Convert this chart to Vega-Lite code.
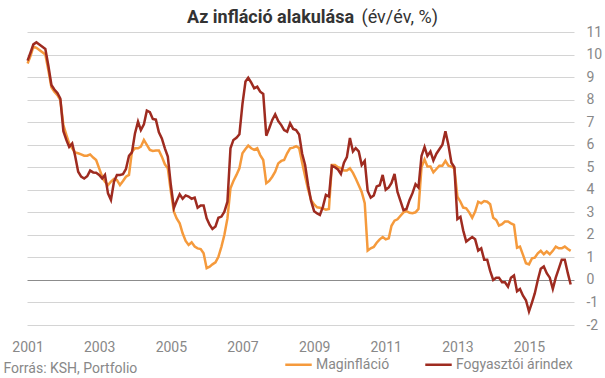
{
"$schema": "https://vega.github.io/schema/vega-lite/v6.json",
"width": 547, "height": 293,
"autosize": {"type": "none"},
"padding": {"left": 27, "top": 32, "right": 31, "bottom": 53},
"background": "white",
"config": {"view": {"stroke": null}, "font": "Roboto"},
"title": {"text": "Az infláció alakulása", "anchor": "start", "frame": "group", "dx": 160, "dy": 19, "offset": 0, "fontSize": 18, "fontWeight": "bold", "font": "Roboto", "color": "#333333"},
"data": {"values": [
{"d":"2001-01","f":9.73,"m":9.6},{"d":"2001-02","f":10.1,"m":9.95},{"d":"2001-03","f":10.45,"m":10.35},{"d":"2001-04","f":10.54,"m":10.3},{"d":"2001-05","f":10.45,"m":10.2},{"d":"2001-06","f":10.35,"m":10.1},{"d":"2001-07","f":10.25,"m":10.0},{"d":"2001-08","f":9.5,"m":9.3},{"d":"2001-09","f":8.65,"m":8.55},{"d":"2001-10","f":8.45,"m":8.35},{"d":"2001-11","f":8.3,"m":8.2},{"d":"2001-12","f":8.05,"m":7.98},
{"d":"2002-01","f":6.6,"m":6.87},{"d":"2002-02","f":6.2,"m":6.43},{"d":"2002-03","f":5.9,"m":6.06},{"d":"2002-04","f":6.06,"m":5.84},{"d":"2002-05","f":5.5,"m":5.65},{"d":"2002-06","f":4.8,"m":5.62},{"d":"2002-07","f":4.58,"m":5.57},{"d":"2002-08","f":4.5,"m":5.51},{"d":"2002-09","f":4.6,"m":5.51},{"d":"2002-10","f":4.85,"m":5.57},{"d":"2002-11","f":4.77,"m":5.43},{"d":"2002-12","f":4.76,"m":5.32},
{"d":"2003-01","f":4.66,"m":4.95},{"d":"2003-02","f":4.5,"m":4.58},{"d":"2003-03","f":4.66,"m":4.36},{"d":"2003-04","f":3.84,"m":4.21},{"d":"2003-05","f":3.55,"m":4.36},{"d":"2003-06","f":4.36,"m":4.48},{"d":"2003-07","f":4.66,"m":4.43},{"d":"2003-08","f":4.66,"m":4.21},{"d":"2003-09","f":4.69,"m":4.39},{"d":"2003-10","f":4.92,"m":4.58},{"d":"2003-11","f":5.51,"m":4.66},{"d":"2003-12","f":5.66,"m":5.69},
{"d":"2004-01","f":6.5,"m":5.84},{"d":"2004-02","f":7.02,"m":5.84},{"d":"2004-03","f":6.65,"m":5.91},{"d":"2004-04","f":6.9,"m":6.21},{"d":"2004-05","f":7.51,"m":5.99},{"d":"2004-06","f":7.44,"m":5.77},{"d":"2004-07","f":7.14,"m":5.72},{"d":"2004-08","f":7.11,"m":5.74},{"d":"2004-09","f":6.55,"m":5.74},{"d":"2004-10","f":6.28,"m":5.47},{"d":"2004-11","f":5.84,"m":5.13},{"d":"2004-12","f":5.47,"m":4.95},
{"d":"2005-01","f":4.2,"m":3.92},{"d":"2005-02","f":3.2,"m":3.03},{"d":"2005-03","f":3.5,"m":2.73},{"d":"2005-04","f":3.8,"m":2.51},{"d":"2005-05","f":3.6,"m":2.07},{"d":"2005-06","f":3.75,"m":1.73},{"d":"2005-07","f":3.7,"m":1.55},{"d":"2005-08","f":3.6,"m":1.67},{"d":"2005-09","f":3.65,"m":1.48},{"d":"2005-10","f":3.2,"m":1.4},{"d":"2005-11","f":3.3,"m":1.37},{"d":"2005-12","f":3.3,"m":1.18},
{"d":"2006-01","f":2.73,"m":0.52},{"d":"2006-02","f":2.44,"m":0.59},{"d":"2006-03","f":2.26,"m":0.69},{"d":"2006-04","f":2.37,"m":0.78},{"d":"2006-05","f":2.76,"m":1.03},{"d":"2006-06","f":2.81,"m":1.48},{"d":"2006-07","f":3.03,"m":2.0},{"d":"2006-08","f":3.47,"m":2.73},{"d":"2006-09","f":5.84,"m":4.07},{"d":"2006-10","f":6.21,"m":4.39},{"d":"2006-11","f":6.31,"m":4.66},{"d":"2006-12","f":6.46,"m":4.95},
{"d":"2007-01","f":7.8,"m":5.62},{"d":"2007-02","f":8.8,"m":5.81},{"d":"2007-03","f":8.97,"m":5.96},{"d":"2007-04","f":8.75,"m":5.84},{"d":"2007-05","f":8.5,"m":5.77},{"d":"2007-06","f":8.57,"m":5.84},{"d":"2007-07","f":8.35,"m":5.54},{"d":"2007-08","f":8.25,"m":5.32},{"d":"2007-09","f":6.4,"m":4.29},{"d":"2007-10","f":6.73,"m":4.39},{"d":"2007-11","f":7.1,"m":4.58},{"d":"2007-12","f":7.35,"m":4.8},
{"d":"2008-01","f":7.05,"m":5.17},{"d":"2008-02","f":6.87,"m":5.28},{"d":"2008-03","f":6.65,"m":5.32},{"d":"2008-04","f":6.58,"m":5.62},{"d":"2008-05","f":6.95,"m":5.84},{"d":"2008-06","f":6.7,"m":5.87},{"d":"2008-07","f":6.65,"m":5.93},{"d":"2008-08","f":6.45,"m":5.85},{"d":"2008-09","f":5.6,"m":5.2},{"d":"2008-10","f":5.1,"m":4.6},{"d":"2008-11","f":4.2,"m":4.0},{"d":"2008-12","f":3.5,"m":3.55},
{"d":"2009-01","f":3.05,"m":3.35},{"d":"2009-02","f":2.95,"m":3.22},{"d":"2009-03","f":2.88,"m":3.2},{"d":"2009-04","f":3.25,"m":3.17},{"d":"2009-05","f":3.77,"m":3.12},{"d":"2009-06","f":3.7,"m":3.15},{"d":"2009-07","f":5.06,"m":5.1},{"d":"2009-08","f":5.0,"m":5.1},{"d":"2009-09","f":4.9,"m":5.0},{"d":"2009-10","f":4.7,"m":4.96},{"d":"2009-11","f":5.2,"m":4.85},{"d":"2009-12","f":5.45,"m":4.85},
{"d":"2010-01","f":6.3,"m":4.95},{"d":"2010-02","f":5.7,"m":4.75},{"d":"2010-03","f":5.85,"m":4.5},{"d":"2010-04","f":5.7,"m":4.2},{"d":"2010-05","f":5.1,"m":3.9},{"d":"2010-06","f":5.28,"m":3.4},{"d":"2010-07","f":3.95,"m":1.3},{"d":"2010-08","f":3.65,"m":1.4},{"d":"2010-09","f":3.75,"m":1.46},{"d":"2010-10","f":4.15,"m":1.65},{"d":"2010-11","f":4.2,"m":1.8},{"d":"2010-12","f":4.66,"m":1.9},
{"d":"2011-01","f":4.0,"m":1.8},{"d":"2011-02","f":4.1,"m":1.85},{"d":"2011-03","f":4.3,"m":2.4},{"d":"2011-04","f":4.7,"m":2.63},{"d":"2011-05","f":3.9,"m":2.69},{"d":"2011-06","f":3.5,"m":2.85},{"d":"2011-07","f":3.1,"m":3.0},{"d":"2011-08","f":3.15,"m":3.05},{"d":"2011-09","f":3.55,"m":2.98},{"d":"2011-10","f":3.85,"m":2.96},{"d":"2011-11","f":4.25,"m":3.0},{"d":"2011-12","f":4.1,"m":3.15},
{"d":"2012-01","f":5.5,"m":5.0},{"d":"2012-02","f":5.9,"m":5.35},{"d":"2012-03","f":5.5,"m":5.03},{"d":"2012-04","f":5.7,"m":5.03},{"d":"2012-05","f":5.3,"m":4.77},{"d":"2012-06","f":5.6,"m":4.92},{"d":"2012-07","f":5.8,"m":5.07},{"d":"2012-08","f":6.0,"m":5.07},{"d":"2012-09","f":6.6,"m":5.28},{"d":"2012-10","f":6.0,"m":5.07},{"d":"2012-11","f":5.2,"m":5.03},{"d":"2012-12","f":5.0,"m":4.95},
{"d":"2013-01","f":2.7,"m":3.7},{"d":"2013-02","f":2.8,"m":3.47},{"d":"2013-03","f":2.2,"m":3.21},{"d":"2013-04","f":1.7,"m":3.18},{"d":"2013-05","f":1.8,"m":3.0},{"d":"2013-06","f":1.9,"m":2.76},{"d":"2013-07","f":1.8,"m":3.03},{"d":"2013-08","f":1.3,"m":3.47},{"d":"2013-09","f":1.4,"m":3.4},{"d":"2013-10","f":0.9,"m":3.5},{"d":"2013-11","f":0.9,"m":3.47},{"d":"2013-12","f":0.4,"m":3.36},
{"d":"2014-01","f":0.0,"m":2.76},{"d":"2014-02","f":0.1,"m":2.66},{"d":"2014-03","f":0.1,"m":2.41},{"d":"2014-04","f":-0.1,"m":2.47},{"d":"2014-05","f":-0.1,"m":2.59},{"d":"2014-06","f":-0.3,"m":2.59},{"d":"2014-07","f":0.1,"m":2.51},{"d":"2014-08","f":0.2,"m":2.44},{"d":"2014-09","f":-0.5,"m":1.43},{"d":"2014-10","f":-0.4,"m":1.48},{"d":"2014-11","f":-0.7,"m":1.11},{"d":"2014-12","f":-0.9,"m":0.74},
{"d":"2015-01","f":-1.4,"m":0.69},{"d":"2015-02","f":-1.0,"m":0.96},{"d":"2015-03","f":-0.6,"m":0.99},{"d":"2015-04","f":0.0,"m":1.18},{"d":"2015-05","f":0.5,"m":1.29},{"d":"2015-06","f":0.6,"m":1.14},{"d":"2015-07","f":0.3,"m":1.26},{"d":"2015-08","f":0.1,"m":1.14},{"d":"2015-09","f":-0.4,"m":1.29},{"d":"2015-10","f":0.1,"m":1.48},{"d":"2015-11","f":0.5,"m":1.4},{"d":"2015-12","f":0.9,"m":1.4},
{"d":"2016-01","f":0.9,"m":1.48},{"d":"2016-02","f":0.3,"m":1.37},{"d":"2016-03","f":-0.2,"m":1.29}
]},
"transform": [{"fold": ["m", "f"], "as": ["series", "value"]}],
"mark": {"type": "line", "strokeWidth": 2.5},
"encoding": {
  "x": {"field": "d", "type": "temporal",
    "scale": {"type": "utc", "domain": [{"year": 2000, "month": 12, "date": 26, "utc": true}, {"year": 2016, "month": 4, "date": 4, "utc": true}]},
    "axis": {"values": [{"year": 2001, "utc": true}, {"year": 2003, "utc": true}, {"year": 2005, "utc": true}, {"year": 2007, "utc": true}, {"year": 2009, "utc": true}, {"year": 2011, "utc": true}, {"year": 2013, "utc": true}, {"year": 2015, "utc": true}],
      "format": "%Y", "formatType": "utc", "labelFontSize": 14, "labelColor": "#888888", "labelFont": "Roboto", "grid": false, "ticks": false, "domain": false, "labelPadding": 15, "labelFlush": false, "labelOverlap": false,
      "title": "Forrás: KSH, Portfolio", "titleFont": "Roboto", "titleFontSize": 14, "titleFontWeight": "normal", "titleColor": "#888888", "titleAnchor": "start", "titleAlign": "left", "titleX": -24, "titleY": 47, "titleBaseline": "alphabetic"}},
  "y": {"field": "value", "type": "quantitative",
    "scale": {"domain": [-2, 11], "nice": false, "zero": false},
    "axis": {"orient": "right", "values": [-2, -1, 0, 1, 2, 3, 4, 5, 6, 7, 8, 9, 10, 11],
      "labelExpr": "datum.value < 0 ? '-' + abs(datum.value) : '' + datum.value",
      "grid": true, "gridColor": {"condition": {"test": "datum.value === 0", "value": "#8c8c8c"}, "value": "#d4d4d4"}, "gridWidth": 1,
      "domain": false, "ticks": false, "labelPadding": 12, "labelFontSize": 14, "labelColor": "#888888", "labelFont": "Roboto",
      "title": "(év/év, %)", "titleAngle": 0, "titleX": -213, "titleY": -9.6, "titleAlign": "left", "titleBaseline": "alphabetic", "titleFontSize": 18, "titleFontWeight": "normal", "titleColor": "#333333", "titleFont": "Roboto"}},
  "color": {"field": "series", "type": "nominal",
    "scale": {"domain": ["m", "f"], "range": ["#f59a3c", "#9e2b20"]},
    "legend": {"orient": "none", "legendX": 257, "legendY": 318, "direction": "horizontal", "title": null,
      "labelExpr": "datum.label === 'm' ? 'Maginfláció' : 'Fogyasztói árindex'",
      "symbolType": "stroke", "symbolSize": 700, "symbolStrokeWidth": 2.5, "labelFontSize": 14, "labelFont": "Roboto", "labelColor": "#888888", "columnPadding": 30, "labelOffset": 3, "padding": 0}}
}
}
